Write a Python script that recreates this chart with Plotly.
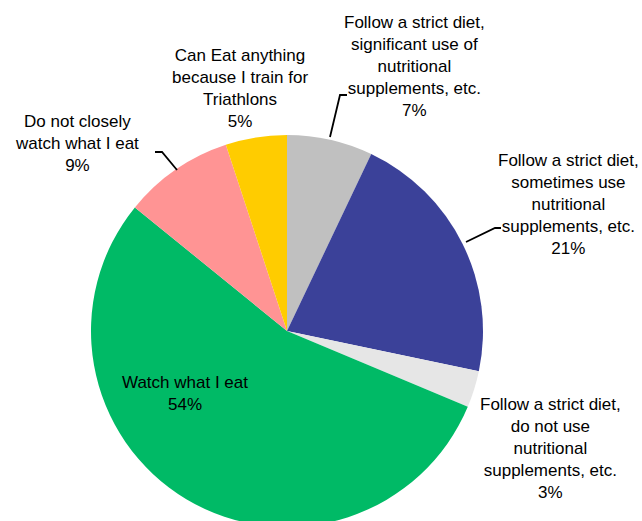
import plotly.graph_objects as go

W, H = 642, 527  # slightly taller than the window; the pie bottom is clipped as in the reference

categories = [
    "Follow a strict diet,<br>significant use of<br>nutritional<br>supplements, etc.",
    "Follow a strict diet,<br>sometimes use<br>nutritional<br>supplements, etc.",
    "Follow a strict diet,<br>do not use<br>nutritional<br>supplements, etc.",
    "Watch what I eat",
    "Do not closely<br>watch what I eat",
    "Can Eat anything<br>because I train for<br>Triathlons",
]
values = [7, 21, 3, 54, 9, 5]
colors = ["#C0C0C0", "#3B4199", "#E6E6E6", "#00BA66", "#FF9494", "#FFCC00"]

# label block centres in screen pixel coordinates (x, y from top)
label_pos = [(414, 66), (568, 204), (550, 448), (185, 393), (77, 144), (240, 88)]


def px(x, y):
    return x / W, 1 - y / H


# pie: centre (287, 331), radius 196 on screen
cx, cy, r = 287, 331, 196
x0, _ = px(cx - r, 0)
x1, _ = px(cx + r, 0)
_, ytop = px(0, cy - r)
_, ybot = px(0, cy + r)

fig = go.Figure(
    go.Pie(
        labels=[c.replace("<br>", " ") for c in categories],
        values=values,
        sort=False,
        direction="clockwise",
        rotation=0,
        textinfo="none",
        hoverinfo="label+percent",
        marker=dict(colors=colors, line=dict(width=0)),
        domain=dict(x=[x0, x1], y=[max(0.0, ybot), ytop]),
        showlegend=False,
    )
)

annotations = []
for cat, v, (x, y) in zip(categories, values, label_pos):
    ax, ay = px(x, y)
    annotations.append(
        dict(
            text=f"{cat}<br>{v}%",
            x=ax, y=ay, xref="paper", yref="paper",
            xanchor="center", yanchor="middle", align="center",
            showarrow=False,
            font=dict(family="Liberation Sans, Arial, sans-serif", size=17, color="#000000"),
        )
    )

leaders = [
    [(330, 137), (340, 95), (347, 95)],
    [(466, 242), (495, 228), (501, 228)],
    [(177, 170), (162, 152), (155, 152)],
]
shapes = []
for pts in leaders:
    p = [px(*q) for q in pts]
    path = "M {} {} ".format(*p[0]) + " ".join("L {} {}".format(*q) for q in p[1:])
    shapes.append(dict(type="path", path=path, xref="paper", yref="paper",
                       line=dict(color="#000000", width=1.8)))

fig.update_layout(
    width=W, height=H,
    margin=dict(l=0, r=0, t=0, b=0),
    paper_bgcolor="#FFFFFF",
    plot_bgcolor="#FFFFFF",
    annotations=annotations,
    shapes=shapes,
)

fig.write_html(
    "out.html",
    config={"displayModeBar": False},
    post_script="document.body.style.margin='0';document.body.style.overflow='hidden';",
)
